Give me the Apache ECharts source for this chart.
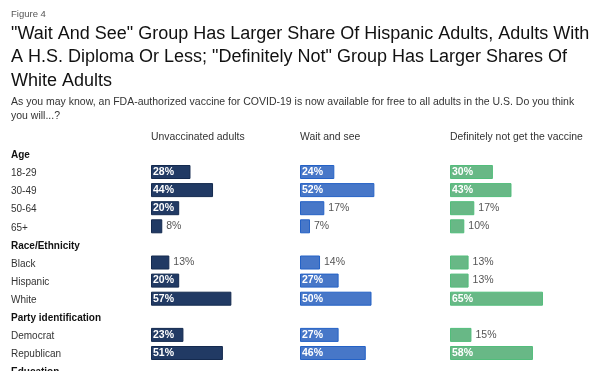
<!DOCTYPE html>
<html><head><meta charset="utf-8">
<script src="https://cdn.jsdelivr.net/npm/echarts@6/dist/echarts.min.js"></script>
<style>html,body{margin:0;padding:0;background:#fff}#c{width:600px;height:371px}</style>
</head><body><div id="c"></div>
<script>
const categories = ['Age','18-29','30-49','50-64','65+','Race/Ethnicity','Black','Hispanic','White','Party identification','Democrat','Republican','Education'];
const headerRows = ['Age','Race/Ethnicity','Party identification','Education'];
const unvaccinated = [null,28,44,20,8,null,13,20,57,null,23,51,null];
const waitAndSee = [null,24,52,17,7,null,14,27,50,null,27,46,null];
const definitelyNot = [null,30,43,17,10,null,13,13,65,null,15,58,null];
const columnTitles = ['Unvaccinated adults','Wait and see','Definitely not get the vaccine'];
const figureLabel = 'Figure 4';
const titleLines = ['"Wait And See" Group Has Larger Share Of Hispanic Adults, Adults With','A H.S. Diploma Or Less; "Definitely Not" Group Has Larger Shares Of','White Adults'];
const subtitleLines = ['As you may know, an FDA-authorized vaccine for COVID-19 is now available for free to all adults in the U.S. Do you think','you will...?'];

const FONT = '"Liberation Sans", Arial, Helvetica, sans-serif';
const panels = [
  {data: unvaccinated, left: 151, width: 141, fill: '#213a64', border: '#142a4f'},
  {data: waitAndSee, left: 300, width: 143, fill: '#4777c8', border: '#2462c6'},
  {data: definitelyNot, left: 450, width: 143, fill: '#68b886', border: '#52bd7b'}
];
const BAND = 18.1, TOP = 172 - 1.5 * 18.1;
const chart = echarts.init(document.getElementById('c'), null, {renderer: 'canvas'});
const grids = [], xAxes = [], yAxes = [], series = [];
panels.forEach((p, i) => {
  grids.push({left: p.left, top: TOP, width: p.width, height: BAND * categories.length, containLabel: false, outerBoundsMode: 'none'});
  xAxes.push({type: 'value', gridIndex: i, min: 0, max: 100, show: false});
  yAxes.push({
    type: 'category', gridIndex: i, data: categories, inverse: true,
    axisLine: {show: false}, axisTick: {show: false}, splitLine: {show: false},
    axisLabel: {
      show: i === 0, align: 'left', margin: 140, hideOverlap: false, interval: 0,
      formatter: v => headerRows.includes(v) ? '{h|' + v + '}' : '{c|' + v + '}',
      rich: {
        h: {fontFamily: FONT, fontSize: 10, fontWeight: 'bold', color: '#111', padding: [3, 0, 0, 0]},
        c: {fontFamily: FONT, fontSize: 10, color: '#333', padding: [3, 0, 0, 0]}
      }
    }
  });
  series.push({
    type: 'bar', xAxisIndex: i, yAxisIndex: i, barWidth: 14,
    itemStyle: {color: p.fill, borderColor: p.border, borderWidth: 1},
    silent: true, animation: false,
    data: p.data.map(v => v == null ? null : {
      value: v,
      label: v >= 20
        ? {show: true, position: 'insideLeft', distance: 2, color: '#fff', fontWeight: 'bold', fontSize: 10.5, fontFamily: FONT, formatter: '{c}%'}
        : {show: true, position: 'right', distance: 4, color: '#555', fontSize: 10.5, fontFamily: FONT, formatter: '{c}%'}
    })
  });
});
const graphic = [];
graphic.push({type: 'text', left: 11, top: 9, style: {text: figureLabel, font: '9.5px ' + FONT, fill: '#555'}});
titleLines.forEach((t, k) => graphic.push({type: 'text', left: 11, top: 25 + k * 23.5, style: {text: t, font: '18px ' + FONT, fill: '#111'}}));
subtitleLines.forEach((t, k) => graphic.push({type: 'text', left: 11, top: 96.5 + k * 14.5, style: {text: t, font: '10.5px ' + FONT, fill: '#333'}}));
columnTitles.forEach((t, k) => graphic.push({type: 'text', left: panels[k].left, top: 132.5, style: {text: t, font: '10.4px ' + FONT, fill: '#333'}}));

chart.setOption({animation: false, grid: grids, xAxis: xAxes, yAxis: yAxes, series: series, graphic: graphic});
</script></body></html>
